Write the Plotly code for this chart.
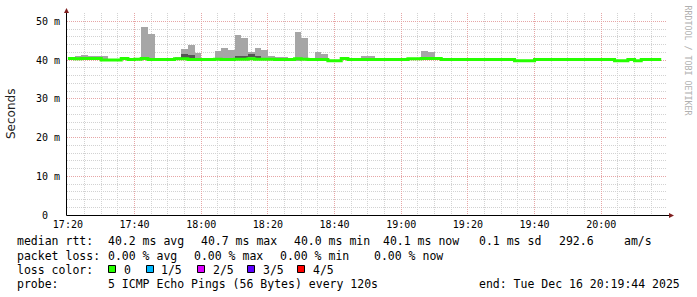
import plotly.graph_objects as go
from datetime import datetime, timedelta

DAY = "2025-12-16"
RANGE_START = "2025-12-16 17:19:44"
RANGE_END = "2025-12-16 20:19:44"
STEP_S = 120

slot_start = [
    "17:20", "17:22", "17:24", "17:26", "17:28", "17:30", "17:32", "17:34", "17:36", "17:38",
    "17:40", "17:42", "17:44", "17:46", "17:48", "17:50", "17:52", "17:54", "17:56", "17:58",
    "18:00", "18:02", "18:04", "18:06", "18:08", "18:10", "18:12", "18:14", "18:16", "18:18",
    "18:20", "18:22", "18:24", "18:26", "18:28", "18:30", "18:32", "18:34", "18:36", "18:38",
    "18:40", "18:42", "18:44", "18:46", "18:48", "18:50", "18:52", "18:54", "18:56", "18:58",
    "19:00", "19:02", "19:04", "19:06", "19:08", "19:10", "19:12", "19:14", "19:16", "19:18",
    "19:20", "19:22", "19:24", "19:26", "19:28", "19:30", "19:32", "19:34", "19:36", "19:38",
    "19:40", "19:42", "19:44", "19:46", "19:48", "19:50", "19:52", "19:54", "19:56", "19:58",
    "20:00", "20:02", "20:04", "20:06", "20:08", "20:10", "20:12", "20:14", "20:16",
]

median_ms = [
    40.4, 40.3, 40.4, 40.4, 40.4, 40.0, 40.0, 40.0, 40.4, 40.1,
    40.2, 40.4, 40.1, 40.1, 40.1, 40.1, 40.3, 40.3, 40.1, 40.1,
    40.1, 40.1, 40.2, 40.1, 40.1, 40.2, 40.2, 40.3, 40.2, 40.2,
    40.2, 40.1, 40.1, 40.1, 40.3, 40.2, 40.1, 40.1, 40.1, 39.8,
    39.8, 40.4, 40.1, 40.1, 40.1, 40.1, 40.1, 40.1, 40.1, 40.1,
    40.1, 40.3, 40.3, 40.4, 40.4, 40.4, 40.1, 40.1, 40.1, 40.1,
    40.1, 40.1, 40.1, 40.1, 40.1, 40.1, 40.1, 39.8, 39.8, 39.8,
    40.1, 40.1, 40.1, 40.1, 40.1, 40.1, 40.1, 40.1, 40.1, 40.1,
    40.1, 40.1, 39.8, 39.8, 40.1, 39.8, 40.1, 40.1, 40.1,
]

smoke_lo = [
    40.3, 40.0, 39.9, 40.2, 40.2, 39.9, 39.9, 39.9, 40.1, 40.0,
    40.0, 40.2, 40.0, 40.0, 40.0, 40.0, 40.1, 40.0, 39.9, 40.0,
    40.0, 40.0, 40.0, 39.75, 39.9, 39.9, 39.9, 40.0, 39.9, 40.0,
    40.0, 40.0, 40.0, 40.0, 39.8, 40.0, 40.0, 40.0, 40.0, 39.7,
    39.7, 40.1, 40.0, 40.0, 40.0, 40.0, 40.0, 40.0, 40.0, 40.0,
    40.0, 40.1, 40.1, 40.1, 40.1, 40.2, 40.0, 40.0, 40.0, 40.0,
    40.0, 40.0, 40.0, 40.0, 40.0, 40.0, 40.0, 39.7, 39.7, 39.7,
    40.0, 40.0, 40.0, 40.0, 40.0, 40.0, 40.0, 40.0, 40.0, 40.0,
    40.0, 40.0, 39.7, 39.7, 40.0, 39.7, 40.0, 40.0, 40.0,
]

smoke_hi = [
    40.6, 41.0, 41.4, 41.0, 41.0, 41.0, 40.3, 40.2, 40.85, 40.35,
    40.5, 48.6, 46.7, 40.4, 40.4, 40.3, 40.85, 42.8, 43.9, 41.9,
    40.3, 40.3, 42.3, 43.1, 42.6, 46.5, 45.75, 42.1, 43.2, 42.6,
    41.0, 40.8, 40.8, 40.4, 47.2, 45.7, 40.4, 42.1, 41.5, 40.0,
    40.0, 40.5, 40.2, 40.2, 41.1, 41.1, 40.2, 40.2, 40.2, 40.2,
    40.2, 40.4, 40.4, 42.3, 42.1, 40.5, 40.2, 40.2, 40.2, 40.2,
    40.2, 40.2, 40.5, 40.5, 40.2, 40.2, 40.2, 40.0, 40.0, 40.0,
    40.5, 40.5, 40.2, 40.2, 40.2, 40.2, 40.2, 40.2, 40.2, 40.2,
    40.2, 40.2, 40.0, 40.0, 40.2, 40.0, 40.2, 40.2, 40.2,
]

# darker inner smoke band (slot start, low, high)
dark_slot = ["17:22", "17:54", "17:56", "18:10", "18:12", "18:14", "18:16"]
dark_lo = [40.15, 40.4, 40.4, 40.6, 40.6, 40.85, 40.6]
dark_hi = [40.3, 41.6, 41.3, 41.1, 41.1, 41.5, 40.8]

y_tickvals = [0, 10, 20, 30, 40, 50]
y_ticktext = ["0\u00a0\u00a0", "10 m", "20 m", "30 m", "40 m", "50 m"]

loss_labels = ["0", "1/5", "2/5", "3/5", "4/5"]
loss_colors = ["#26ff00", "#00b8ff", "#dd00ff", "#5e00ff", "#ff0000"]

stats_line1 = ["median rtt:", "40.2 ms avg", "40.7 ms max", "40.0 ms min", "40.1 ms now", "0.1 ms sd", "292.6", "am/s"]
stats_line2 = ["packet loss:", "0.00 % avg", "0.00 % max", "0.00 % min", "0.00 % now"]
probe_text = ["probe:", "5 ICMP Echo Pings (56 Bytes) every 120s"]
end_text = "end: Tue Dec 16 20:19:44 2025"
watermark = "RRDTOOL / TOBI OETIKER"

# ---------------------------------------------------------------
W, H = 697, 297
L, R, T, B = 67, 30, 13, 82
PW, PH = W - L - R, H - T - B


def px(x):
    return (x - L) / PW


def py(y):
    return (T + PH - y) / PH


def ts(hm):
    return datetime.strptime(f"{DAY} {hm}", "%Y-%m-%d %H:%M")


centers = [ts(s) + timedelta(seconds=STEP_S / 2) for s in slot_start]
fig = go.Figure()

fig.add_trace(go.Bar(
    x=centers, y=[h - l for h, l in zip(smoke_hi, smoke_lo)], base=smoke_lo,
    width=STEP_S * 1000, marker=dict(color="#a6a6a6", line=dict(width=0)),
    hoverinfo="skip", showlegend=False,
))
fig.add_trace(go.Bar(
    x=[ts(s) + timedelta(seconds=STEP_S / 2) for s in dark_slot],
    y=[h - l for h, l in zip(dark_hi, dark_lo)], base=dark_lo,
    width=STEP_S * 1000, marker=dict(color="#555555", line=dict(width=0)),
    hoverinfo="skip", showlegend=False,
))
line_x = [ts(s) for s in slot_start] + [ts(slot_start[-1]) + timedelta(seconds=STEP_S)]
line_y = median_ms + [median_ms[-1]]
fig.add_trace(go.Scatter(
    x=line_x, y=line_y, mode="lines", line=dict(color=loss_colors[0], width=3, shape="hv"),
    hoverinfo="skip", showlegend=False,
))

mono = "DejaVu Sans Mono"
anns = []


def ann(text, x, y, size=11.5, xanchor="left", color="#000000", family=mono, angle=0):
    anns.append(dict(text=text, x=px(x), y=py(y), xref="paper", yref="paper", showarrow=False,
                     xanchor=xanchor, yanchor="middle", borderpad=0,
                     font=dict(family=family, size=size, color=color), textangle=angle))


l1_x = [16, 107, 200, 293, 382, 478, 558, 623]
for t, x in zip(stats_line1, l1_x):
    ann(t, x, 241.5)
l2_x = [16, 107, 193, 279, 373]
for t, x in zip(stats_line2, l2_x):
    ann(t, x, 255.5)
ann("loss color:", 16, 269.5)
box_x = [108.5, 146.5, 197.5, 247.5, 297.5]
lab_x = [123, 160, 211.5, 261.5, 312]
shapes = []
for lab, col, bx, lx in zip(loss_labels, loss_colors, box_x, lab_x):
    shapes.append(dict(type="rect", xref="paper", yref="paper", x0=px(bx), x1=px(bx + 7),
                       y0=py(265.5), y1=py(272.5), fillcolor=col,
                       line=dict(color="#000000", width=1)))
    ann(lab, lx, 269.5)
ann(probe_text[0], 16, 283.5)
ann(probe_text[1], 107, 283.5)
ann(end_text, 478, 283.5)
ann("Seconds", 11, 114, size=12, family="DejaVu Sans", angle=-90, xanchor="center", color="#222222")
ann(watermark, 687.5, 60, size=8.3, angle=90, xanchor="center", color="#b0b0b0")

# axis lines and arrows
shapes.append(dict(type="line", xref="paper", yref="paper", x0=px(66.5), x1=px(669), y0=py(215.5), y1=py(215.5),
                   line=dict(color="#000000", width=1)))
shapes.append(dict(type="line", xref="paper", yref="paper", x0=px(66.5), x1=px(66.5), y0=py(215.5), y1=py(12),
                   line=dict(color="#000000", width=1)))
shapes.append(dict(type="path", xref="paper", yref="paper",
                   path=f"M {px(64)} {py(13)} L {px(69)} {py(13)} L {px(66.5)} {py(8)} Z",
                   fillcolor="#7f1f1f", line=dict(width=0)))
shapes.append(dict(type="path", xref="paper", yref="paper",
                   path=f"M {px(669)} {py(213)} L {px(669)} {py(218)} L {px(674)} {py(215.5)} Z",
                   fillcolor="#7f1f1f", line=dict(width=0)))

major_grid = "#e6a6a6"
minor_grid = "#d2d2d2"

fig.update_layout(
    width=W, height=H, margin=dict(l=L, r=R, t=T, b=B, pad=0),
    paper_bgcolor="#ffffff", plot_bgcolor="#ffffff",
    barmode="overlay", bargap=0, showlegend=False,
    annotations=anns, shapes=shapes,
    xaxis=dict(
        type="date", range=[RANGE_START, RANGE_END],
        tick0=f"{DAY} 17:20", dtick=20 * 60 * 1000, tickformat="%H:%M",
        showgrid=True, gridcolor=major_grid, griddash="1px,1px", gridwidth=1,
        minor=dict(dtick=5 * 60 * 1000, tick0=f"{DAY} 17:20", showgrid=True,
                   gridcolor=minor_grid, griddash="1px,1px", gridwidth=1),
        showline=False, zeroline=False, ticks="", ticklabelstandoff=2,
        tickfont=dict(family=mono, size=10, color="#000000"), fixedrange=True,
    ),
    yaxis=dict(
        range=[0, 52.13], tickvals=y_tickvals, ticktext=y_ticktext,
        showgrid=True, gridcolor=major_grid, griddash="1px,1px", gridwidth=1,
        minor=dict(dtick=2, tick0=0, showgrid=True, gridcolor=minor_grid, griddash="1px,1px", gridwidth=1),
        showline=False, zeroline=False, ticks="", ticklabelstandoff=6,
        tickfont=dict(family=mono, size=10, color="#000000"), fixedrange=True,
    ),
)

fig.write_html("out.html", config={"displayModeBar": False})
